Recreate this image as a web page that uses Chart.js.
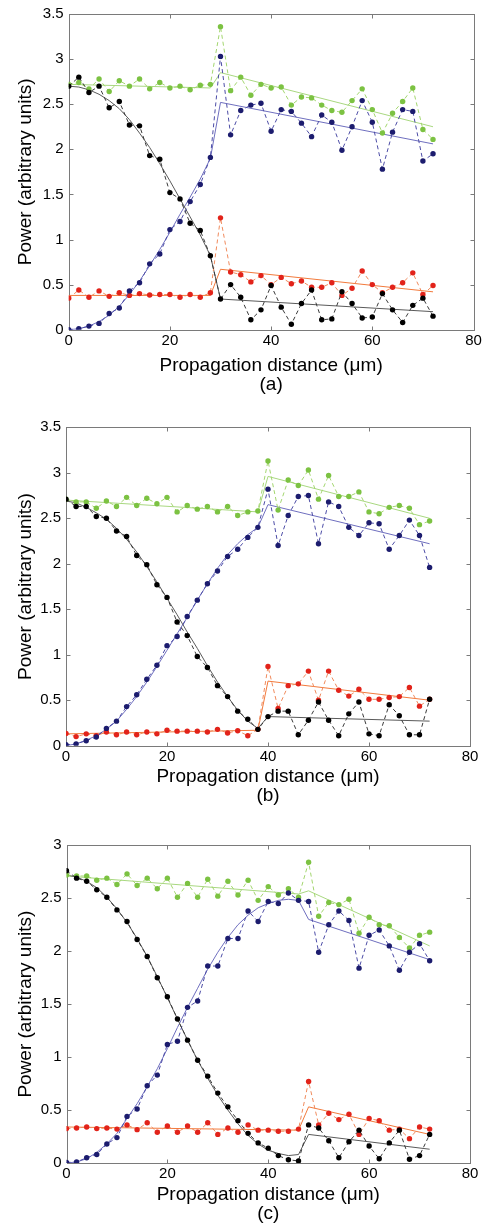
<!DOCTYPE html>
<html>
<head>
<meta charset="utf-8">
<script src="https://cdn.jsdelivr.net/npm/chart.js@4.4.0/dist/chart.umd.min.js"></script>
<style>
    html, body { margin: 0; padding: 0; background: #fff; }
    body { width: 488px; height: 1224px; position: relative; overflow: hidden; }
    canvas { position: absolute; left: 0; }
</style>
</head>
<body>
<canvas id="chartA" width="488" height="399" style="top:0px"></canvas>
<canvas id="chartB" width="488" height="411" style="top:400px"></canvas>
<canvas id="chartC" width="488" height="413" style="top:811px"></canvas>
<script>
// propagation distance of the measured points (um)
const dist = [0, 2, 4, 6, 8, 10, 12, 14, 16, 18, 20, 22, 24, 26, 28, 30, 32, 34, 36,
    38, 40, 42, 44, 46, 48, 50, 52, 54, 56, 58, 60, 62, 64, 66, 68, 70, 72];

// --- panel (a) ---
const aBlack = [2.70, 2.80, 2.63, 2.70, 2.46, 2.53, 2.27, 2.26, 1.93, 1.89, 1.52, 1.45, 1.18, 1.10, 0.82,
    0.34, 0.50, 0.36, 0.11, 0.22, 0.49, 0.25, 0.06, 0.29, 0.44, 0.11, 0.12, 0.42, 0.29, 0.13,
    0.14, 0.40, 0.22, 0.08, 0.27, 0.35, 0.15];
const aBlue = [0.00, 0.01, 0.04, 0.07, 0.18, 0.24, 0.43, 0.52, 0.73, 0.84, 1.11, 1.20, 1.42, 1.61, 1.91,
    3.03, 2.16, 2.43, 2.49, 2.51, 2.20, 2.44, 2.42, 2.29, 2.14, 2.38, 2.30, 1.99, 2.25, 2.54,
    2.30, 1.78, 2.19, 2.44, 2.42, 1.87, 1.95];
const aGreen = [2.72, 2.74, 2.67, 2.78, 2.64, 2.76, 2.70, 2.78, 2.67, 2.74, 2.68, 2.70, 2.66, 2.71, 2.72,
    3.36, 2.65, 2.80, 2.60, 2.72, 2.68, 2.69, 2.49, 2.58, 2.57, 2.49, 2.43, 2.41, 2.54, 2.67,
    2.44, 2.18, 2.40, 2.53, 2.68, 2.22, 2.11];
const aRed = [0.35, 0.44, 0.36, 0.43, 0.37, 0.41, 0.38, 0.40, 0.385, 0.39, 0.39, 0.36, 0.39, 0.36, 0.41,
    1.24, 0.64, 0.61, 0.53, 0.60, 0.50, 0.58, 0.51, 0.54, 0.47, 0.47, 0.52, 0.38, 0.46, 0.65,
    0.50, 0.41, 0.47, 0.52, 0.63, 0.39, 0.49];
const aCurveDist = [0, 2, 4, 6, 8, 10, 12, 14, 16, 18, 20, 22, 24, 26, 28, 30, 72];
const aBlackFit = [2.70, 2.69, 2.66, 2.61, 2.54, 2.45, 2.33, 2.18, 2.02, 1.84, 1.65, 1.45, 1.25, 1.05, 0.82, 0.34, 0.20];
const aBlueFit = [0.00, 0.01, 0.04, 0.09, 0.16, 0.26, 0.39, 0.54, 0.71, 0.89, 1.08, 1.28, 1.47, 1.67, 1.90, 2.52, 2.06];
const aFlatDist = [0, 28, 30, 72];
const aGreenFit = [2.72, 2.68, 2.85, 2.25];
const aRedFit = [0.38, 0.38, 0.67, 0.42];

// --- panel (b) ---
const bBlack = [2.71, 2.63, 2.63, 2.52, 2.50, 2.36, 2.30, 2.09, 1.99, 1.77, 1.63, 1.36, 1.21, 0.98, 0.86,
    0.66, 0.54, 0.38, 0.29, 0.18, 0.32, 0.38, 0.38, 0.12, 0.28, 0.48, 0.28, 0.11, 0.35, 0.48,
    0.13, 0.11, 0.45, 0.33, 0.12, 0.12, 0.51];
const bBlue = [0.01, 0.02, 0.055, 0.095, 0.19, 0.27, 0.43, 0.56, 0.73, 0.885, 1.10, 1.20, 1.42, 1.60, 1.78,
    1.92, 2.08, 2.16, 2.29, 2.40, 2.82, 2.20, 2.53, 2.74, 2.75, 2.22, 2.68, 2.63, 2.40, 2.31,
    2.45, 2.44, 2.16, 2.31, 2.48, 2.31, 1.96];
const bGreen = [2.71, 2.68, 2.68, 2.61, 2.69, 2.63, 2.73, 2.64, 2.72, 2.66, 2.73, 2.57, 2.64, 2.60, 2.63,
    2.57, 2.63, 2.53, 2.57, 2.58, 3.13, 2.59, 2.92, 2.86, 3.03, 2.71, 2.97, 2.74, 2.74, 2.79,
    2.57, 2.55, 2.62, 2.64, 2.61, 2.43, 2.47];
const bRed = [0.135, 0.10, 0.13, 0.11, 0.15, 0.12, 0.15, 0.12, 0.15, 0.13, 0.17, 0.16, 0.16, 0.16, 0.15,
    0.18, 0.14, 0.165, 0.11, 0.18, 0.87, 0.41, 0.66, 0.68, 0.82, 0.50, 0.82, 0.61, 0.545, 0.62,
    0.51, 0.51, 0.53, 0.54, 0.64, 0.435, 0.51];
const bCurveDist = [0, 2, 4, 6, 8, 10, 12, 14, 16, 18, 20, 22, 24, 26, 28, 30, 32, 34, 36, 38, 40, 72];
const bBlackFit = [2.69, 2.67, 2.62, 2.56, 2.49, 2.39, 2.27, 2.13, 1.97, 1.80, 1.62, 1.44, 1.25, 1.07, 0.88,
    0.70, 0.54, 0.39, 0.27, 0.19, 0.32, 0.27];
const bBlueFit = [0.00, 0.02, 0.06, 0.11, 0.18, 0.27, 0.40, 0.54, 0.70, 0.87, 1.05, 1.23, 1.41, 1.60, 1.78,
    1.95, 2.10, 2.22, 2.32, 2.40, 2.65, 2.22];
const bFlatDist = [0, 38, 40, 72];
const bGreenFit = [2.70, 2.57, 2.96, 2.50];
const bRedFit = [0.13, 0.17, 0.71, 0.50];

// --- panel (c) ---
const cBlack = [2.76, 2.69, 2.66, 2.58, 2.51, 2.39, 2.28, 2.11, 1.95, 1.75, 1.57, 1.36, 1.16, 0.97, 0.82,
    0.66, 0.53, 0.40, 0.28, 0.19, 0.14, 0.07, 0.03, 0.02, 0.36, 0.33, 0.21, 0.05, 0.20, 0.31,
    0.16, 0.04, 0.19, 0.31, 0.035, 0.07, 0.27];
const cBlue = [0.005, 0.01, 0.05, 0.08, 0.18, 0.24, 0.44, 0.51, 0.73, 0.83, 1.12, 1.15, 1.47, 1.53, 1.86,
    1.86, 2.12, 2.12, 2.38, 2.28, 2.47, 2.45, 2.55, 2.48, 2.47, 1.99, 2.25, 2.38, 2.29, 1.84,
    2.15, 2.20, 2.05, 1.82, 1.99, 2.07, 1.91];
const cGreen = [2.72, 2.71, 2.71, 2.67, 2.69, 2.63, 2.73, 2.62, 2.69, 2.59, 2.69, 2.51, 2.64, 2.51, 2.68,
    2.52, 2.66, 2.53, 2.67, 2.48, 2.61, 2.53, 2.59, 2.51, 2.84, 2.33, 2.46, 2.44, 2.49, 2.17,
    2.32, 2.25, 2.24, 2.13, 2.03, 2.15, 2.18];
const cRed = [0.325, 0.33, 0.34, 0.325, 0.33, 0.32, 0.36, 0.315, 0.38, 0.29, 0.35, 0.29, 0.35, 0.29, 0.38,
    0.27, 0.33, 0.29, 0.36, 0.31, 0.31, 0.30, 0.30, 0.32, 0.77, 0.36, 0.47, 0.41, 0.46, 0.27,
    0.42, 0.40, 0.31, 0.32, 0.23, 0.34, 0.32];
const cCurveDist = [0, 2, 4, 6, 8, 10, 12, 14, 16, 18, 20, 22, 24, 26, 28, 30, 32, 34, 36, 38, 40, 42, 44, 46, 48, 72];
const cBlackFit = [2.72, 2.70, 2.66, 2.60, 2.51, 2.40, 2.27, 2.12, 1.95, 1.76, 1.56, 1.36, 1.16, 0.97, 0.80,
    0.64, 0.50, 0.37, 0.26, 0.18, 0.12, 0.09, 0.07, 0.08, 0.27, 0.13];
const cBlueFit = [0.00, 0.01, 0.04, 0.10, 0.18, 0.28, 0.42, 0.56, 0.72, 0.89, 1.08, 1.28, 1.47, 1.65, 1.83,
    1.99, 2.13, 2.25, 2.34, 2.41, 2.45, 2.48, 2.49, 2.48, 2.30, 1.92];
const cFlatDist = [0, 46, 48, 72];
const cGreenFit = [2.71, 2.54, 2.57, 2.05];
const cRedFit = [0.34, 0.31, 0.53, 0.27];

const FONT = "Arial, 'Liberation Sans', sans-serif";

const colors = {
    black: { dot: '#000000', dash: '#3a3a3a', fit: '#5a5a5a' },
    blue:  { dot: '#1c1c6e', dash: '#4c4ca6', fit: '#6f6fbf' },
    green: { dot: '#7cc242', dash: '#a3d66f', fit: '#a9d880' },
    red:   { dot: '#e2231a', dash: '#f08a5c', fit: '#f27a3c' }
};

function pairs(xs, ys) {
    return xs.map((x, i) => ({ x: x, y: ys[i] }));
}

function dotSet(ys, c) {
    return {
        data: pairs(dist, ys),
        borderColor: c.dash,
        borderWidth: 1,
        borderDash: [4, 3],
        pointRadius: 2.7,
        pointBackgroundColor: c.dot,
        pointBorderColor: c.dot,
        pointBorderWidth: 0,
        tension: 0,
        fill: false
    };
}

function fitSet(xs, ys, c) {
    return {
        data: pairs(xs, ys),
        borderColor: c.fit,
        borderWidth: 1,
        pointRadius: 0,
        tension: 0,
        fill: false
    };
}

// MATLAB-like box with inward ticks on all four sides
const boxPlugin = {
    id: 'matlabBox',
    beforeDatasetsDraw(chart) {
        const ctx = chart.ctx;
        const a = chart.chartArea;
        const xs = chart.scales.x, ys = chart.scales.y;
        const L = Math.round(a.left) + 0.5, R = Math.round(a.right) + 0.5;
        const T = Math.round(a.top) + 0.5, B = Math.round(a.bottom) + 0.5;
        ctx.save();
        ctx.strokeStyle = '#7a7a7a';
        ctx.lineWidth = 1;
        ctx.strokeRect(L, T, R - L, B - T);
        ctx.beginPath();
        xs.ticks.forEach(t => {
            const px = Math.round(xs.getPixelForValue(t.value)) + 0.5;
            ctx.moveTo(px, B); ctx.lineTo(px, B - 4);
            ctx.moveTo(px, T); ctx.lineTo(px, T + 4);
        });
        ys.ticks.forEach(t => {
            const py = Math.round(ys.getPixelForValue(t.value)) + 0.5;
            ctx.moveTo(L, py); ctx.lineTo(L + 4, py);
            ctx.moveTo(R, py); ctx.lineTo(R - 4, py);
        });
        ctx.stroke();
        ctx.restore();
    }
};

function makePanel(id, p) {
    const canvas = document.getElementById(id);
    const H = canvas.height;
    return new Chart(canvas.getContext('2d'), {
        type: 'line',
        data: {
            datasets: [
                dotSet(p.black, colors.black),
                dotSet(p.blue, colors.blue),
                dotSet(p.red, colors.red),
                dotSet(p.green, colors.green),
                fitSet(p.curveDist, p.blackFit, colors.black),
                fitSet(p.curveDist, p.blueFit, colors.blue),
                fitSet(p.flatDist, p.redFit, colors.red),
                fitSet(p.flatDist, p.greenFit, colors.green)
            ]
        },
        options: {
            responsive: false,
            animation: false,
            devicePixelRatio: 1,
            layout: { padding: { top: p.plot.top, right: 488 - p.plot.right, left: 0, bottom: 0 } },
            plugins: { legend: { display: false }, tooltip: { enabled: false } },
            scales: {
                x: {
                    type: 'linear',
                    min: 0, max: 80,
                    grid: { display: false, drawTicks: false, tickLength: 0 },
                    border: { display: false },
                    ticks: { stepSize: 20, padding: 2, color: '#000', font: { family: FONT, size: 15 } },
                    title: {
                        display: true,
                        text: ['Propagation distance (μm)', p.label],
                        color: '#000',
                        font: { family: FONT, size: 19, lineHeight: '19px' },
                        padding: { top: 0, bottom: p.padBottom }
                    },
                    afterFit(scale) { scale.height = H - p.plot.bottom; }
                },
                y: {
                    min: 0, max: p.yMax,
                    grid: { display: false, drawTicks: false, tickLength: 0 },
                    border: { display: false },
                    ticks: {
                        stepSize: 0.5, padding: 5, color: '#000', font: { family: FONT, size: 15 },
                        callback: v => String(v)
                    },
                    title: {
                        display: true,
                        text: 'Power (arbitrary units)',
                        color: '#000',
                        font: { family: FONT, size: 19, lineHeight: '19px' },
                        padding: { top: 16, bottom: 0 }
                    },
                    afterFit(scale) { scale.width = p.plot.left; }
                }
            }
        },
        plugins: [boxPlugin]
    });
}

makePanel('chartA', {
    black: aBlack, blue: aBlue, green: aGreen, red: aRed,
    curveDist: aCurveDist, blackFit: aBlackFit, blueFit: aBlueFit,
    flatDist: aFlatDist, greenFit: aGreenFit, redFit: aRedFit,
    yMax: 3.5, label: '(a)', padBottom: 5,
    plot: { left: 68.7, right: 473.5, top: 12.7, bottom: 329.7 }
});

makePanel('chartB', {
    black: bBlack, blue: bBlue, green: bGreen, red: bRed,
    curveDist: bCurveDist, blackFit: bBlackFit, blueFit: bBlueFit,
    flatDist: bFlatDist, greenFit: bGreenFit, redFit: bRedFit,
    yMax: 3.5, label: '(b)', padBottom: 5.5,
    plot: { left: 66, right: 470, top: 27.3, bottom: 345.7 }
});

makePanel('chartC', {
    black: cBlack, blue: cBlue, green: cGreen, red: cRed,
    curveDist: cCurveDist, blackFit: cBlackFit, blueFit: cBlueFit,
    flatDist: cFlatDist, greenFit: cGreenFit, redFit: cRedFit,
    yMax: 3, label: '(c)', padBottom: 1,
    plot: { left: 66.5, right: 470, top: 34.3, bottom: 352 }
});
</script>
</body>
</html>
